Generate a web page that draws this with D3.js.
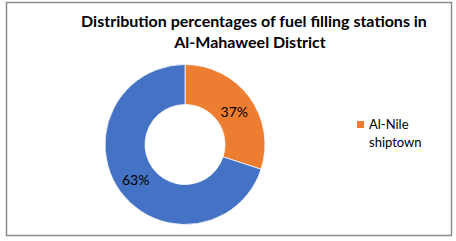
<!DOCTYPE html>
<html>
<head>
<meta charset="utf-8">
<script src="https://cdn.jsdelivr.net/npm/d3@7"></script>
<style>
  body { margin: 0; background: #fff; }
  svg { display: block; font-family: Lato, "Open Sans", sans-serif; }
</style>
</head>
<body>
<svg width="456" height="241"></svg>
<script>
const svg = d3.select("svg");

// DATA
const categories = ["Al-Nile shiptown", "Other"];
const shares = [30, 70];          // slice sizes as drawn
const labels = ["37%", "63%"];    // label texts as printed
const colors = ["#ED7D31", "#4472C4"];
const legendItems = ["Al-Nile shiptown"];

// FRAME
svg.append("rect")
    .attr("x", 6.5).attr("y", 2.5)
    .attr("width", 445).attr("height", 233)
    .attr("fill", "#fff")
    .attr("stroke", "#8c8c8c")
    .attr("stroke-width", 1.5);

// TITLE
const title = svg.append("text")
    .attr("text-anchor", "middle")
    .attr("font-size", "16px")
    .attr("font-weight", "bold")
    .attr("fill", "#000");
title.append("tspan").attr("x", 254).attr("y", 27)
    .text("Distribution percentages of fuel filling stations in");
title.append("tspan").attr("x", 250).attr("y", 48)
    .text("Al-Mahaweel District");

// DONUT
const cx = 185, cy = 144.5, outerR = 80, innerR = 40;
const chart = svg.append("g").attr("transform", `translate(${cx},${cy})`);

const pie = d3.pie().sort(null).value(d => d.value);
const arc = d3.arc().innerRadius(innerR).outerRadius(outerR);
const labelArc = d3.arc().innerRadius(61).outerRadius(61);

const data = categories.map((c, i) => ({ name: c, value: shares[i], label: labels[i], color: colors[i] }));
const arcs = pie(data);

chart.selectAll("path")
    .data(arcs)
    .enter()
    .append("path")
    .attr("d", arc)
    .attr("fill", d => d.data.color)
    .attr("stroke", "#fff")
    .attr("stroke-width", 0.75);

chart.selectAll("text.label")
    .data(arcs)
    .enter()
    .append("text")
    .attr("class", "label")
    .attr("transform", d => `translate(${labelArc.centroid(d)})`)
    .attr("text-anchor", "middle")
    .attr("dy", (d, i) => i === 0 ? "0.6em" : "0.35em")
    .attr("font-size", "14px")
    .attr("fill", "#000")
    .text(d => d.data.label);

// LEGEND
const legend = svg.append("g").attr("transform", "translate(357,121)");
legendItems.forEach((name, i) => {
    legend.append("rect")
        .attr("x", 0).attr("y", 0)
        .attr("width", 7).attr("height", 7)
        .attr("fill", colors[i]);
    const words = name.split(" ");
    const t = legend.append("text")
        .attr("font-size", "13px")
        .attr("fill", "#000");
    words.forEach((w, j) => {
        t.append("tspan").attr("x", 12).attr("y", 7.5 + j * 18).text(w);
    });
});
</script>
</body>
</html>
